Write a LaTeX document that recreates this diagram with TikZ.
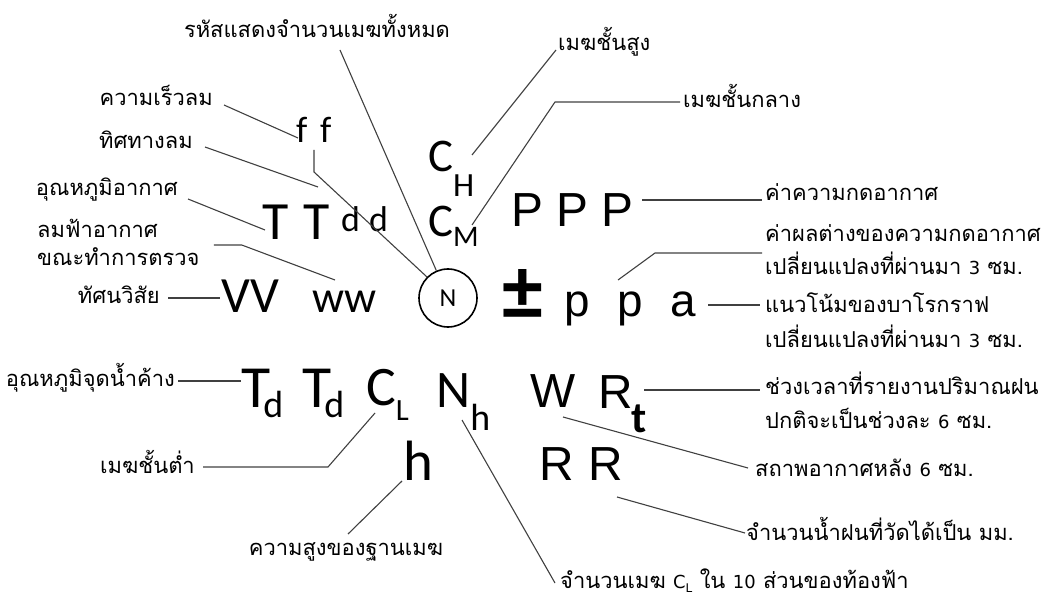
\documentclass[tikz,border=0pt]{standalone}
\usepackage{fontspec}
\usetikzlibrary{positioning}
\newfontfamily\thaifont[Script=Thai]{Loma}
\newfontfamily\latinfont{DejaVu Sans}
\newfontfamily\symfont{Carlito}
\newfontfamily\thinfont{Liberation Sans}
\newcommand{\fs}[1]{\fontsize{#1}{#1}\selectfont}
\newcommand{\lat}[1]{{\latinfont\fs{18}#1}}

\tikzset{
  lbl/.style={font=\thaifont\fs{22}, inner sep=0pt},
  sym/.style={inner sep=0pt, anchor=base west},
  link/.style={draw=black!75, line width=1.1bp}
}

\begin{document}
\begin{tikzpicture}[x=1bp,y=-1bp]
    \useasboundingbox (0,0) rectangle (1052,602);

    % คำอธิบาย ด้านซ้าย
    \node[lbl, anchor=base] (lblTotal) at (317,38) {รหัสแสดงจำนวนเมฆทั้งหมด};
    \node[lbl, anchor=base east] (lblSpeed) at (213,106) {ความเร็วลม};
    \node[lbl, anchor=base east] (lblDir) at (193,149) {ทิศทางลม};
    \node[lbl, anchor=base east] (lblTemp) at (178,196) {อุณหภูมิอากาศ};
    \node[lbl, anchor=base west] (wxA) at (37,238) {ลมฟ้าอากาศ};
    \node[lbl, anchor=base west] (wxB) at (37,266) {ขณะทำการตรวจ};
    \node[lbl, anchor=base east] (lblVis) at (160,304) {ทัศนวิสัย};
    \node[lbl, anchor=base east] (lblDew) at (175,386) {อุณหภูมิจุดน้ำค้าง};
    \node[lbl, anchor=base east] (lblLow) at (195,473) {เมฆชั้นต่ำ};
    \node[lbl, anchor=base] (lblBase) at (346,555) {ความสูงของฐานเมฆ};

    % คำอธิบาย ด้านขวา
    \node[lbl, anchor=base west] (lblHigh) at (558,51) {เมฆชั้นสูง};
    \node[lbl, anchor=base west] (lblMid) at (683,108) {เมฆชั้นกลาง};
    \node[lbl, anchor=base west] (lblPres) at (765,201) {ค่าความกดอากาศ};
    \node[lbl, anchor=base west] (tendA) at (765,242) {ค่าผลต่างของความกดอากาศ};
    \node[lbl, anchor=base west] (tendB) at (765,275) {เปลี่ยนแปลงที่ผ่านมา \lat{3} ซม.};
    \node[lbl, anchor=base west] (trendA) at (765,313) {แนวโน้มของบาโรกราฟ};
    \node[lbl, anchor=base west] (trendB) at (765,347) {เปลี่ยนแปลงที่ผ่านมา \lat{3} ซม.};
    \node[lbl, anchor=base west] (periodA) at (765,394) {ช่วงเวลาที่รายงานปริมาณฝน};
    \node[lbl, anchor=base west] (periodB) at (765,428) {ปกติจะเป็นช่วงละ \lat{6} ซม.};
    \node[lbl, anchor=base west] (lblPast) at (755,476) {สถาพอากาศหลัง \lat{6} ซม.};
    \node[lbl, anchor=base west] (lblRain) at (746,540) {จำนวนน้ำฝนที่วัดได้เป็น มม.};
    \node[lbl, anchor=base west] (lblCln) at (560,588)
        {จำนวนเมฆ \lat{C\raisebox{-4bp}{\fs{12}L}} ใน \lat{10} ส่วนของท้องฟ้า};

    % สัญลักษณ์ แถวบน
    \node[sym, font=\symfont\fs{37}] (f1) at (296,143) {f};
    \node[sym, font=\symfont\fs{37}] (f2) at (320,143) {f};
    \node[sym, font=\symfont\fs{54}] (T1) at (262,240) {T};
    \node[sym, font=\symfont\fs{54}] (T2) at (303,240) {T};
    \node[sym, font=\symfont\fs{36}] (d1) at (341,232) {d};
    \node[sym, font=\symfont\fs{36}] (d2) at (369,232) {d};
    \node[sym, font=\symfont\fs{47}] (CH) at (428,172) {C\raisebox{-25bp}{\fs{34}H}};
    \node[sym, font=\symfont\fs{47}] (CM) at (428,237) {C\raisebox{-10bp}{\fs{30}M}};
    \node[sym, font=\thinfont\fs{48}] (P1) at (511,227) {P};
    \node[sym, font=\thinfont\fs{48}] (P2) at (556,227) {P};
    \node[sym, font=\thinfont\fs{48}] (P3) at (601,227) {P};

    % สัญลักษณ์ แถวกลาง
    \node[sym, font=\symfont\fs{51}] (VV) at (221,313) {VV};
    \node[sym, font=\symfont\fs{45}] (ww) at (312,313) {ww};
    \node[draw, circle, line width=1.6bp, minimum size=58bp, inner sep=0pt,
          font=\symfont\fs{26}] (circ) at (448,298) {N};
    \node[sym, font=\symfont\bfseries\fs{82}] (pm) at (502,320) {\scalebox{1}[1.06]{±}};
    \node[sym, font=\thinfont\fs{46}] (p1) at (564,316) {p};
    \node[sym, font=\thinfont\fs{46}] (p2) at (617,316) {p};
    \node[sym, font=\thinfont\fs{46}] (a) at (670,316) {a};

    % สัญลักษณ์ แถวล่าง
    \node[sym, font=\symfont\fs{60}] (Td1) at (241,407) {T\kern-7bp\raisebox{-10bp}{\fs{38}d}};
    \node[sym, font=\symfont\fs{60}] (Td2) at (302,407) {T\kern-7bp\raisebox{-10bp}{\fs{38}d}};
    \node[sym, font=\symfont\fs{56}] (CL) at (366,405) {C\raisebox{-15bp}{\fs{31}L}};
    \node[sym, font=\symfont\fs{53}] (Nh) at (436,407) {N\raisebox{-23bp}{\fs{38}h}};
    \node[sym, font=\symfont\fs{57}] (hb) at (403,480) {h};
    \node[sym, font=\thinfont\fs{48}] (W) at (530,407) {W};
    \node[sym, font=\thinfont\fs{48}] (Rt) at (598,408) {R\kern-1bp\raisebox{-24bp}{\symfont\bfseries\fs{44}t}};
    \node[sym, font=\thinfont\fs{48}] (R1) at (539,480) {R};
    \node[sym, font=\thinfont\fs{48}] (R2) at (588,480) {R};

    % เส้นโยง
    \draw[link] ([shift={(23,12)}]lblTotal.base) -- (circ.113);
    \draw[link] ([shift={(11,-1)}]lblSpeed.base east) -- ([shift={(2,-5)}]f1.base west);
    \draw[link] ([shift={(12,-2)}]lblDir.base east) -- ([shift={(-23,-45)}]d1.base west);
    \draw[link] ([shift={(18,7)}]f1.base west) -- ([shift={(18,29)}]f1.base west) -- (circ.135);
    \draw[link] ([shift={(10,3)}]lblTemp.base east) -- ([shift={(3,-10)}]T1.base west);
    \draw[link] ([shift={(14,-21)}]wxB.base east) -- ++(28,0) -- ([shift={(23,-33)}]ww.base west);
    \draw[link] ([shift={(8,-6)}]lblVis.base east) -- ([shift={(-1,-15)}]VV.base west);
    \draw[link] ([shift={(44,-17)}]CH.base west) -- ([shift={(-2,-1)}]lblHigh.base west);
    \draw[link] ([shift={(44,-12)}]CM.base west) -- ([shift={(-128,-6)}]lblMid.base west)
        -- ([shift={(-3,-6)}]lblMid.base west);
    \draw[link] ([shift={(41,-27)}]P3.base west) -- ([shift={(-3,-1)}]lblPres.base west);
    \draw[link] ([shift={(1,-36)}]p2.base west) -- ([shift={(-110,11)}]tendA.base west)
        -- ([shift={(-3,11)}]tendA.base west);
    \draw[link] ([shift={(38,-11)}]a.base west) -- ([shift={(-5,-8)}]trendA.base west);
    \draw[link] ([shift={(46,-18)}]Rt.base west) -- ([shift={(-5,-4)}]periodA.base west);
    \draw[link] ([shift={(33,10)}]W.base west) -- ([shift={(-7,-8)}]lblPast.base west);
    \draw[link] ([shift={(29,17)}]R2.base west) -- ([shift={(-1,-7)}]lblRain.base west);
    \draw[link] ([shift={(26,13)}]Nh.base west) -- ([shift={(-5,-5)}]lblCln.base west);
    \draw[link] ([shift={(-1,1)}]hb.base west) -- ([shift={(2,-21)}]lblBase.base);
    \draw[link] ([shift={(9,8)}]CL.base west) -- ([shift={(133,-6)}]lblLow.base east)
        -- ([shift={(8,-6)}]lblLow.base east);
    \draw[link] ([shift={(3,-5)}]lblDew.base east) -- ([shift={(0,-26)}]Td1.base west);
\end{tikzpicture}
\end{document}
